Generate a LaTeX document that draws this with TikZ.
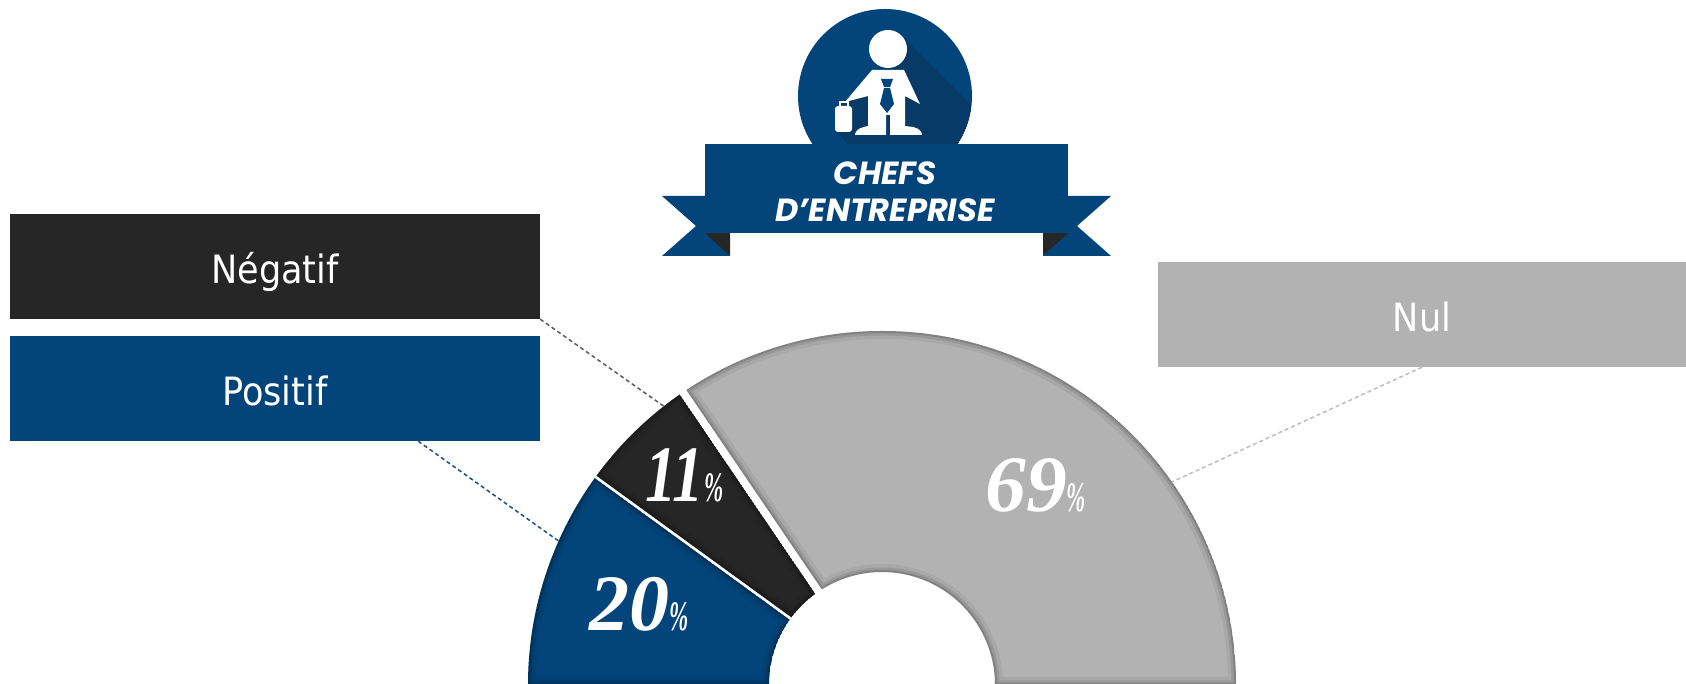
\documentclass[tikz,border=0pt]{standalone}
\usepackage{fontspec}
\setmainfont{Liberation Serif}
\newfontfamily\labfont{DejaVu Sans Condensed}
\newfontfamily\ribfont{Poppins}
\usetikzlibrary{calc}

\definecolor{navy}{HTML}{03457B}
\definecolor{navyshadow}{HTML}{073A66}
\definecolor{darkseg}{HTML}{262626}
\definecolor{greyseg}{HTML}{B2B2B2}
\definecolor{leadneg}{HTML}{5C5C5C}
\definecolor{leadpos}{HTML}{1F4E85}
\definecolor{leadnul}{HTML}{BDBDBD}

\def\manhead{(888,635) circle[radius=19]}
\def\manbody{(872,614) -- (904,614) -- (920,580) -- (905,588) -- (905,558) -- (913,557) .. controls (919,556) and (922,552) .. (922,549) -- (890,549) -- (890,569) -- (886,569) -- (886,549) -- (855,549) .. controls (855,552) and (858,556) .. (864,557) -- (868,558) -- (868,588) -- (845,582) -- cycle}
\def\mancase{(835,552) rectangle (852,578)}

\def\greyseg{(0:354) arc[start angle=0, end angle=123.55, radius=354] -- (122.17:113) arc[start angle=122.17, end angle=0, radius=113] -- cycle}
\def\blackseg{(124.85:354) arc[start angle=124.85, end angle=143.76, radius=354] -- (143.24:113) arc[start angle=143.24, end angle=126.23, radius=113] -- cycle}
\def\blueseg{(144.24:354) arc[start angle=144.24, end angle=180, radius=354] -- (180:113) arc[start angle=180, end angle=144.76, radius=113] -- cycle}

\tikzset{
  labelbox/.style={rectangle, inner sep=0pt, minimum width=530pt, minimum height=105pt,
     text=white, font=\labfont\fontsize{39}{39}\selectfont, text height=35pt, text depth=0pt},
  leader/.style={line width=1.5pt, dash pattern=on 4pt off 3pt},
  pctlabel/.style={anchor=base west, inner sep=0pt, text=white},
  ribtext/.style={anchor=base, inner sep=0pt, text=white, font=\ribfont\bfseries\itshape\fontsize{32}{32}\selectfont},
  innershadow/.style={draw=black, draw opacity=#1}
}

\newcommand{\pctnum}[2][0.95]{\scalebox{#1}[1]{\fontsize{80}{80}\selectfont\bfseries\itshape #2}\scalebox{0.55}[1]{\fontsize{42}{42}\selectfont\bfseries\itshape\%}}

\begin{document}
\begin{tikzpicture}[x=1pt,y=1pt]
\useasboundingbox (0,0) rectangle (1686,684);
\clip (0,0) rectangle (1686,684);
\fill[white] (0,0) rectangle (1686,684);

% ---- label boxes
\node[labelbox, fill=darkseg] (neg) at (275,417.5) {Négatif};
\node[labelbox, fill=navy] (pos) at (275,295.5) {Positif};
\node[labelbox, fill=greyseg, minimum width=528pt] (nul) at (1422,369.5) {Nul};

% ---- donut
\begin{scope}[shift={(882,-1)}]
  \coordinate (negend) at (128:353);
  \coordinate (posend) at (156:354);
  \coordinate (nulend) at (35:354);
  \foreach \seg/\col in {\greyseg/greyseg, \blackseg/darkseg, \blueseg/navy} {
    \begin{scope}
      \clip \seg;
      \fill[\col] \seg;
      \draw[innershadow=0.05, line width=16pt] \seg;
      \draw[innershadow=0.09, line width=9pt] \seg;
      \draw[innershadow=0.14, line width=4pt] \seg;
    \end{scope}
  }
\end{scope}

% ---- leaders
\coordinate (posstart) at ([xshift=-122pt]pos.south east);
\draw[leader, draw=leadneg] (neg.south east) -- (negend);
\draw[leader, draw=leadpos] (posstart) -- (posend);
\draw[leader, draw=leadnul] (nul.south) -- (nulend);

% ---- percentages
\node[pctlabel] (p11) at (645,182) {\pctnum[0.78]{11}};
\node[pctlabel] (p69) at (985,172) {\pctnum[1.02]{69}};
\node[pctlabel] (p20) at (589,53) {\pctnum[1.0]{20}};

% ---- badge
\node[circle, fill=navy, minimum size=174pt, inner sep=0pt] (badge) at (885,588) {};
\begin{scope}
  \clip (885,588) circle[radius=86.5];
  \foreach \k in {1,...,60} {
    \begin{scope}[shift={(2*\k,-2*\k)}]
      \fill[navyshadow] \manhead;
      \fill[navyshadow] \manbody;
      \fill[navyshadow] \mancase;
      \fill[navyshadow] (839,576) rectangle (848,583);
    \end{scope}
  }
\end{scope}
% figure
\fill[white] \manhead;
\fill[white] \manbody;
\fill[white, rounded corners=3pt] \mancase;
\draw[white, line width=2pt] (839.5,577) -- (839.5,582) -- (847.5,582) -- (847.5,577);
\fill[navy] (881,605) -- (893,605) -- (890,597) -- (884,597) -- cycle;
\fill[navy] (884,596) -- (890,596) -- (894,580) -- (887,571) -- (880,580) -- cycle;

% ---- ribbon
\fill[navy] (662,488) -- (707,488) -- (707,451) -- (730,428) -- (662,428) -- (696,458) -- cycle;
\fill[navy] (1111,488) -- (1066,488) -- (1066,451) -- (1043,428) -- (1111,428) -- (1077,458) -- cycle;
\fill[darkseg] (705,451) -- (730,451) -- (730,428) -- cycle;
\fill[darkseg] (1068,451) -- (1043,451) -- (1043,428) -- cycle;
\node[rectangle, fill=navy, inner sep=0pt, minimum width=363pt, minimum height=89pt] (ribbon) at (886.5,495.5) {};
\node[ribtext] (chefs) at (885,499) {CHEFS};
\node[ribtext] (entr) at (885,462) {D’ENTREPRISE};
\end{tikzpicture}
\end{document}
